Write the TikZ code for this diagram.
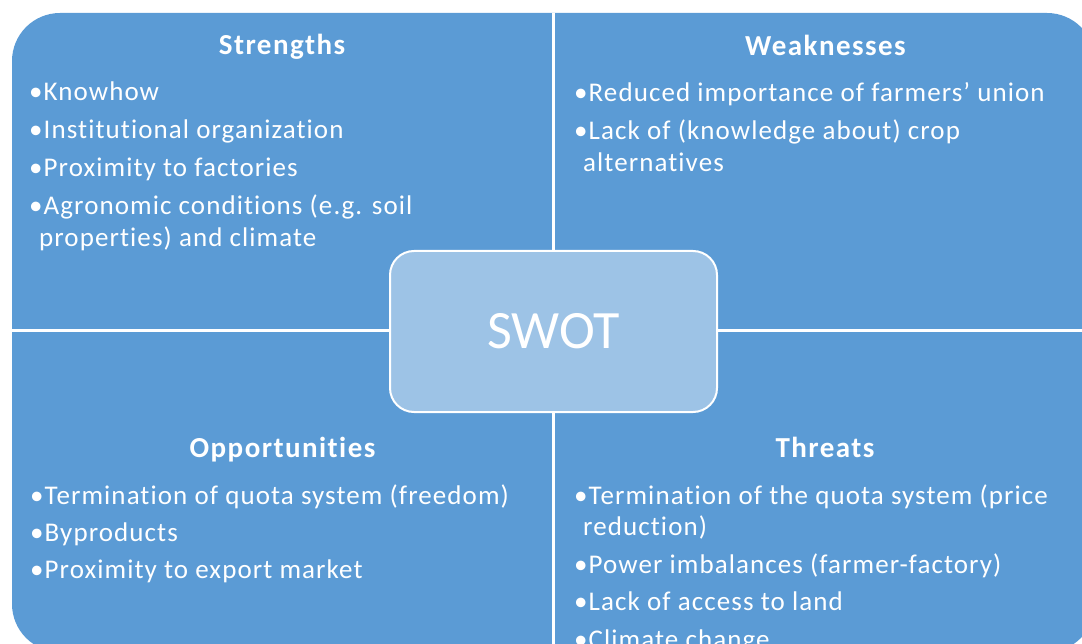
\documentclass[tikz,border=0pt]{standalone}
\usepackage{fontspec}
\setmainfont{Carlito}[Ligatures=CommonOff, LetterSpace=4]
\newfontfamily\headfont{Carlito}[Ligatures=CommonOff, LetterSpace=5]
\newfontfamily\swotfont{Carlito}
\definecolor{swotblue}{HTML}{5B9BD5}
\definecolor{swotlight}{HTML}{9DC3E6}
\begin{document}
\begin{tikzpicture}[x=1pt, y=-1pt,
  item/.style={anchor=base west, inner sep=0pt, text=white,
    font=\fontsize{27}{32}\selectfont},
  head/.style={anchor=base, inner sep=0pt, text=white,
    font=\headfont\bfseries\fontsize{29}{34}\selectfont}]
\useasboundingbox (0,0) rectangle (1082,644);
\clip (0,0) rectangle (1082,644);

% four quadrants as one rounded panel split by white gaps
\fill[swotblue, rounded corners=48pt] (12,13) rectangle (1095,652);
\draw[white, line width=3pt] (553.5,13) -- (553.5,652);
\draw[white, line width=3pt] (12,330.5) -- (1095,330.5);

% centre box
\node[draw=white, line width=2pt, fill=swotlight, rounded corners=24pt,
  minimum width=327pt, minimum height=161pt, inner sep=0pt, text=white,
  font=\swotfont\fontsize{54}{60}\selectfont] (swot) at (553.5,331.5) {SWOT};

% Strengths
\node[head] (sh) at (282,55) {Strengths};
\node[item] (s1) at (29,101) {•Knowhow};
\node[item] (s2) at (29,138.5) {•Institutional organization};
\node[item] (s3) at (29,176.5) {•Proximity to factories};
\node[item] (s4) at (29,215) {•Agronomic conditions (e.g. soil};
\node[item] (s4b) at (39,246.5) {properties) and climate};

% Weaknesses
\node[head] (wh) at (825.5,55.5) {Weaknesses};
\node[item] (w1) at (574,101.5) {•Reduced importance of farmers’ union};
\node[item] (w2) at (574,140) {•Lack of (knowledge about) crop};
\node[item] (w2b) at (583,171.5) {alternatives};

% Opportunities
\node[head] (oh) at (282.5,457) {Opportunities};
\node[item] (o1) at (30,504) {•Termination of quota system (freedom)};
\node[item] (o2) at (30,541) {•Byproducts};
\node[item] (o3) at (30,578.5) {•Proximity to export market};

% Threats
\node[head] (th) at (825,457) {Threats};
\node[item] (t1) at (574,504) {•Termination of the quota system (price};
\node[item] (t1b) at (583,535) {reduction)};
\node[item] (t2) at (574,573) {•Power imbalances (farmer-factory)};
\node[item] (t3) at (574,610.5) {•Lack of access to land};
\node[item] (t4) at (574,648) {•Climate change};
\end{tikzpicture}
\end{document}
